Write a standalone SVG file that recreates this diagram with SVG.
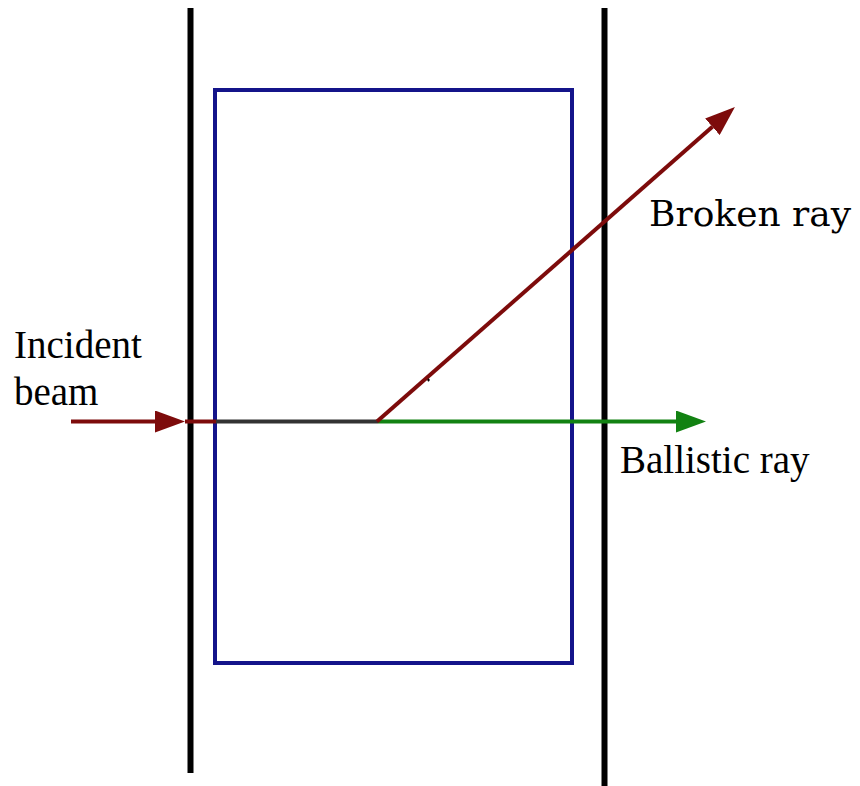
<svg xmlns="http://www.w3.org/2000/svg" width="860" height="786" viewBox="0 0 860 786">
<style>
.wall{stroke:#000;stroke-width:6;fill:none}
.sample{stroke:#14148a;stroke-width:4;fill:none}
.red{stroke:#7d0b0b;stroke-width:4;fill:none}
.green{stroke:#128212;stroke-width:4;fill:none}
.gray{stroke:#333;stroke-width:4;fill:none}
.lbl{font-family:"Liberation Serif","Times New Roman",serif;font-size:39px;fill:#000}
.lbl2{font-family:"DejaVu Serif",serif;font-size:36px;fill:#000}
</style>
<defs>
<marker id="ah-red" markerUnits="userSpaceOnUse" viewBox="0 0 30 22" refX="0" refY="11" markerWidth="30" markerHeight="22" orient="auto">
<path d="M0,0 L30,11 L0,22 Z" fill="#7d0b0b"/>
</marker>
<marker id="ah-green" markerUnits="userSpaceOnUse" viewBox="0 0 30 22" refX="0" refY="11" markerWidth="30" markerHeight="22" orient="auto">
<path d="M0,0 L30,11 L0,22 Z" fill="#128212"/>
</marker>
</defs>
<rect width="860" height="786" fill="#fff"/>
<g id="wall-left"><line class="wall" x1="190.5" y1="8" x2="190.5" y2="773"/></g>
<g id="wall-right"><line class="wall" x1="604.5" y1="8" x2="604.5" y2="786"/></g>
<g id="sample"><rect class="sample" x="215" y="90" width="357" height="573"/></g>
<g id="connectors">
<line class="red" x1="71" y1="421.5" x2="155" y2="421.5" marker-end="url(#ah-red)"/>
<line class="red" x1="185" y1="421.5" x2="216" y2="421.5"/>
<line class="gray" x1="216" y1="421.5" x2="378" y2="421.5"/>
<line class="green" x1="378" y1="421.5" x2="676" y2="421.5" marker-end="url(#ah-green)"/>
<line class="red" x1="377" y1="421.5" x2="712.4" y2="126.8" marker-end="url(#ah-red)"/>
<path d="M427,380 h3 M428.5,378.5 v3" stroke="#000" stroke-width="1.2"/>
</g>
<g id="label-incident">
<text class="lbl" x="14" y="358">Incident</text>
<text class="lbl" x="14" y="405">beam</text>
</g>
<g id="label-broken"><text class="lbl2" x="649" y="226">Broken ray</text></g>
<g id="label-ballistic"><text class="lbl" x="620" y="473">Ballistic ray</text></g>
</svg>
